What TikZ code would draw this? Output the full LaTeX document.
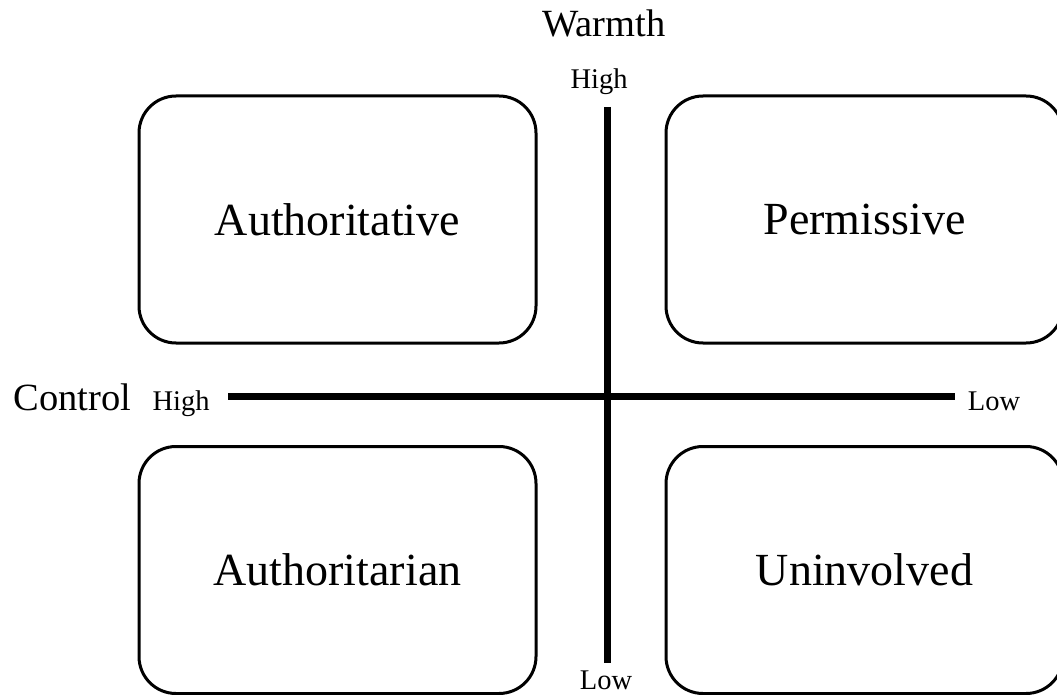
\documentclass[tikz,border=0pt]{standalone}
\usepackage{fontspec}
\setmainfont{Liberation Serif}
\begin{document}
\begin{tikzpicture}[x=1pt,y=-1pt,
  quad/.style={draw,line width=3pt,rounded corners=37pt,minimum width=397pt,minimum height=247pt,inner sep=0pt,font=\fontsize{46}{50}\selectfont},
  axisline/.style={line width=7pt,line cap=butt},
  big/.style={inner sep=0pt,anchor=base,font=\fontsize{38.5}{42}\selectfont},
  small/.style={inner sep=0pt,anchor=base,font=\fontsize{28.5}{32}\selectfont}]
\useasboundingbox (0,0) rectangle (1057,695);
\clip (0,0) rectangle (1057,695);
\node[quad] (tl) at (337.5,219.5) {Authoritative};
\node[quad] (tr) at (864.5,219.5) {Permissive};
\node[quad] (bl) at (337.5,570) {Authoritarian};
\node[quad] (br) at (864.5,570) {Uninvolved};
\coordinate (vtop) at (607,107);
\coordinate (vbot) at (607,663);
\coordinate (hleft) at (228,396);
\coordinate (hright) at (955,396);
\draw[axisline] (vtop) -- (vbot);
\draw[axisline] (hleft) -- (hright);
\node[big] (warmth) at (604,37) {Warmth};
\node[big] (control) at (72.5,410) {Control};
\node[small] (whigh) at (599,89) {High};
\node[small] (wlow) at (606,689) {Low};
\node[small] (chigh) at (181,410) {High};
\node[small] (clow) at (994,410) {Low};
\end{tikzpicture}
\end{document}
